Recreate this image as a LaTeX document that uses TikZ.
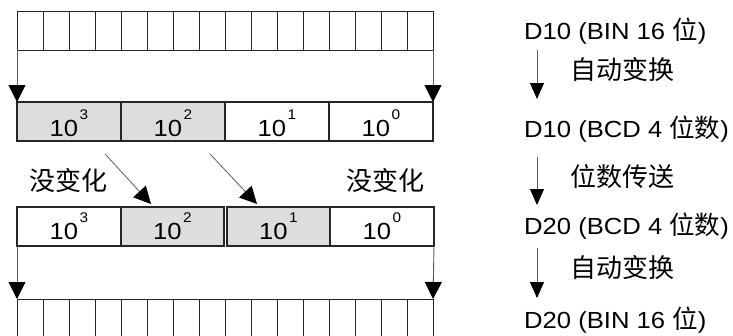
\documentclass[tikz,border=0pt]{standalone}
\usepackage{fontspec}
\usepackage{graphicx}
\setmainfont{Liberation Sans}
\newfontfamily\cjk{Noto Sans CJK SC}
\usetikzlibrary{arrows.meta}
\definecolor{cellgray}{RGB}{221,221,221}
\definecolor{stemgray}{RGB}{90,90,90}
\newcommand\hs[1]{\scalebox{1.1}[1]{#1}}
\newcommand\zw[1]{{\cjk\fontsize{25.5}{25.5}\selectfont #1}}
\newcommand\pw[1]{\hs{10}\hspace{1.5pt}\raisebox{16.7pt}{\hs{\fontsize{14}{14}\selectfont #1}}}
\begin{document}
\begin{tikzpicture}[x=1pt,y=-1pt,
  bitcell/.style={draw=black!85,line width=1pt,minimum width=26pt,minimum height=39pt,inner sep=0pt,outer sep=0pt,anchor=north west},
  bcdcell/.style={draw=black!85,line width=1.1pt,minimum width=104pt,minimum height=39pt,inner sep=0pt,outer sep=0pt,anchor=north west},
  shaded/.style={fill=cellgray},
  numtxt/.style={font=\fontsize{23.3}{24}\selectfont,anchor=base,inner sep=0pt},
  lat/.style={font=\fontsize{23.3}{24}\selectfont,anchor=base west,inner sep=0pt},
  zh/.style={font=\fontsize{26}{26}\cjk,anchor=base west,inner sep=0pt},
  bigarrow/.style={draw=stemgray,line width=0.9pt,-{Triangle[width=17pt,length=17pt,color=black]}},
  smallarrow/.style={draw=stemgray,line width=0.9pt,-{Triangle[width=14pt,length=16pt,color=black]}}]
\useasboundingbox (0,0) rectangle (733,335);
\clip (0,0) rectangle (733,335);
% top row (BIN 16 bits)
\foreach \i in {1,...,16} {
  \node[bitcell] (t\i) at ({17+26*(\i-1)},11) {};
}
% D10 BCD row
\node[bcdcell,shaded] (a1) at (17,102) {};
\node[bcdcell,shaded] (a2) at (121,102) {};
\node[bcdcell] (a3) at (225,102) {};
\node[bcdcell] (a4) at (329,102) {};
\node[numtxt] (a1t) at ([yshift=4.5pt]a1.south) {\pw{3}};
\node[numtxt] (a2t) at ([yshift=4.5pt]a2.south) {\pw{2}};
\node[numtxt] (a3t) at ([yshift=4.5pt]a3.south) {\pw{1}};
\node[numtxt] (a4t) at ([yshift=4.5pt]a4.south) {\pw{0}};
% D20 BCD row
\node[bcdcell] (b1) at (17,207) {};
\node[bcdcell,shaded,minimum width=103pt] (b2) at (121,207) {};
\node[bcdcell,shaded,minimum width=103pt] (b3) at (227,207) {};
\node[bcdcell] (b4) at (330,207) {};
\node[numtxt] (b1t) at ([yshift=6.5pt]b1.south) {\pw{3}};
\node[numtxt] (b2t) at ([yshift=6.5pt]b2.south) {\pw{2}};
\node[numtxt] (b3t) at ([yshift=6.5pt]b3.south) {\pw{1}};
\node[numtxt] (b4t) at ([yshift=6.5pt]b4.south) {\pw{0}};
% bottom row
\foreach \i in {1,...,16} {
  \node[bitcell,minimum height=50pt] (u\i) at ({17+26*(\i-1)},299) {};
}
% vertical arrows left part
\draw[bigarrow] (t1.south west) -- (a1.north west);
\draw[bigarrow] (t16.south east) -- (a4.north east);
\draw[bigarrow] (b1.south west) -- (u1.north west);
\draw[bigarrow] (b4.south east) -- (u16.north east);
% diagonal arrows
\coordinate (d1s) at (105,154);
\coordinate (d1e) at (151,204);
\coordinate (d2s) at (210,154);
\coordinate (d2e) at (257,204);
\draw[bigarrow,line width=0.8pt] (d1s) -- (d1e);
\draw[bigarrow,line width=0.8pt] (d2s) -- (d2e);
% unchanged labels
\node[zh] (nc1) at (29,190) {没变化};
\node[zh] (nc2) at (346,190) {没变化};
% right column
\node[lat] (r1) at (524,39) {\hs{D10 (BIN 16 }\zw{位}\hs{)}};
\node[lat] (r2) at (524,137) {\hs{D10 (BCD 4 }\zw{位数}\hs{)}};
\node[lat] (r3) at (524,234) {\hs{D20 (BCD 4 }\zw{位数}\hs{)}};
\node[lat] (r4) at (524,328) {\hs{D20 (BIN 16 }\zw{位}\hs{)}};
\node[zh] (s1) at (570,79) {自动变换};
\node[zh] (s2) at (570,186) {位数传送};
\node[zh] (s3) at (570,277) {自动变换};
\coordinate (p1s) at (537,50);
\coordinate (p1e) at (537,99);
\coordinate (p2s) at (537,157);
\coordinate (p2e) at (537,205);
\coordinate (p3s) at (537,248);
\coordinate (p3e) at (537,298);
\draw[smallarrow] (p1s) -- (p1e);
\draw[smallarrow] (p2s) -- (p2e);
\draw[smallarrow] (p3s) -- (p3e);
\end{tikzpicture}
\end{document}
